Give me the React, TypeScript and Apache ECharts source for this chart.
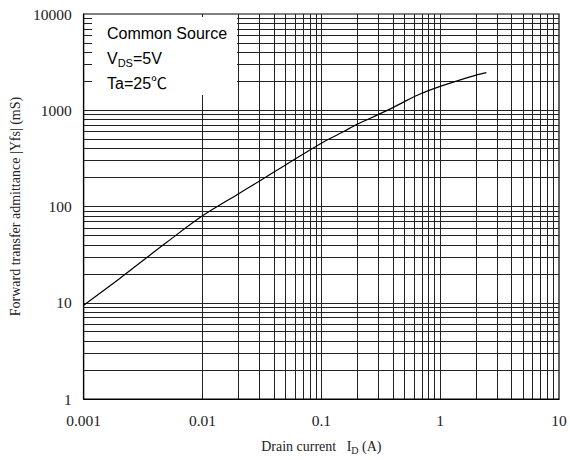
import React, { useEffect, useRef } from "react";
import * as echarts from "echarts";

const drainCurrent = [0.001, 0.002, 0.003, 0.005, 0.01, 0.02, 0.03, 0.05, 0.1, 0.15, 0.2, 0.3, 0.4, 0.5, 0.7, 1.0, 1.5, 2.0, 2.45];
const admittance = [9.4, 17.8, 26.2, 42.5, 80, 135, 183, 270, 455, 590, 715, 900, 1065, 1230, 1500, 1770, 2080, 2320, 2460];

const xTickLabels = ["0.001", "0.01", "0.1", "1", "10"];
const yTickLabels = ["1", "10", "100", "1000", "10000"];
const xDecades = [0.001, 0.01, 0.1, 1];
const yDecades = [1, 10, 100, 1000];
const multipliers = [1, 2, 3, 4, 5, 6, 7, 8, 9];

const SERIF = "'Liberation Serif', 'Times New Roman', serif";
const SANS = "'Liberation Sans', Arial, 'Noto Sans CJK JP', sans-serif";

export default function App() {
  const ref = useRef<HTMLDivElement>(null);
  useEffect(() => {
    if (!ref.current) return;
    const chart = echarts.init(ref.current, undefined, { renderer: "svg" });
    const xLines: any[] = [];
    xDecades.forEach((d, i) =>
      multipliers.forEach((m) => {
        if (i === 0 && m === 1) return;
        xLines.push({ xAxis: d * m });
      })
    );
    const yLines: any[] = [];
    yDecades.forEach((d, i) =>
      multipliers.forEach((m) => {
        if (i === 0 && m === 1) return;
        yLines.push({ yAxis: d * m });
      })
    );
    const lineData = drainCurrent.map((x, i) => [x, admittance[i]]);
    chart.setOption({
      animation: false,
      backgroundColor: "#fff",
      grid: {
        left: 79,
        right: 11,
        top: 14,
        bottom: 61,
        show: true,
        borderColor: "#000",
        borderWidth: 1.2,
        backgroundColor: "transparent",
      },
      xAxis: {
        type: "log",
        logBase: 10,
        min: 0.001,
        max: 10,
        name: "Drain current   I{sub|D} (A)",
        nameLocation: "middle",
        nameGap: 38,
        nameTextStyle: {
          fontFamily: SERIF,
          fontSize: 14,
          color: "#222",
          rich: {
            sub: { fontFamily: SERIF, fontSize: 10, color: "#222", verticalAlign: "bottom", padding: [8, 0, 0, 0] },
          },
        },
        axisLine: { show: true, lineStyle: { color: "#000", width: 1.2 } },
        axisTick: { show: false },
        splitLine: { show: false },
        minorTick: { show: false },
        minorSplitLine: { show: false },
        axisLabel: {
          fontFamily: SERIF,
          fontSize: 15.5,
          color: "#222",
          margin: 13,
          formatter: (v: number) => xTickLabels[Math.round(Math.log10(v)) + 3] ?? "",
        },
      },
      yAxis: {
        type: "log",
        logBase: 10,
        min: 1,
        max: 10000,
        name: "Forward transfer admittance |Yfs| (mS)",
        nameLocation: "middle",
        nameGap: 60,
        nameTextStyle: { fontFamily: SERIF, fontSize: 14, color: "#222" },
        axisLine: { show: true, lineStyle: { color: "#000", width: 1.2 } },
        axisTick: { show: false },
        splitLine: { show: false },
        minorTick: { show: false },
        minorSplitLine: { show: false },
        axisLabel: {
          fontFamily: SERIF,
          fontSize: 15.5,
          color: "#222",
          margin: 12,
          formatter: (v: number) => yTickLabels[Math.round(Math.log10(v))] ?? "",
        },
      },
      series: [
        {
          type: "line",
          data: lineData,
          showSymbol: false,
          symbol: "none",
          smooth: 0.3,
          z: 4,
          lineStyle: { color: "#000", width: 1.2 },
          markLine: {
            silent: true,
            symbol: ["none", "none"],
            label: { show: false },
            lineStyle: { color: "#222", width: 1, type: "solid" },
            emphasis: { disabled: true },
            data: [...xLines, ...yLines],
            z: 2,
          },
        },
      ],
      graphic: [
        {
          type: "rect",
          z: 100,
          shape: { x: 92, y: 17, width: 145, height: 78 },
          style: { fill: "#fff" },
        },
        {
          type: "text",
          z: 101,
          x: 107,
          y: 33,
          style: { text: "Common Source", font: `16px ${SANS}`, fill: "#000", verticalAlign: "middle" },
        },
        {
          type: "text",
          z: 101,
          x: 107,
          y: 58,
          style: {
            text: "{n|V}{s|DS}{n|=5V}",
            fill: "#000",
            verticalAlign: "middle",
            rich: {
              n: { fontFamily: SANS, fontSize: 16, fill: "#000" },
              s: { fontFamily: SANS, fontSize: 11, fill: "#000", padding: [9, 0, 0, 0] },
            },
          },
        },
        {
          type: "text",
          z: 101,
          x: 107,
          y: 83,
          style: { text: "Ta=25℃", font: `16px ${SANS}`, fill: "#000", verticalAlign: "middle" },
        },
      ],
    });
    return () => chart.dispose();
  }, []);
  return <div ref={ref} style={{ position: "fixed", left: 0, top: 0, width: 570, height: 460 }} />;
}
